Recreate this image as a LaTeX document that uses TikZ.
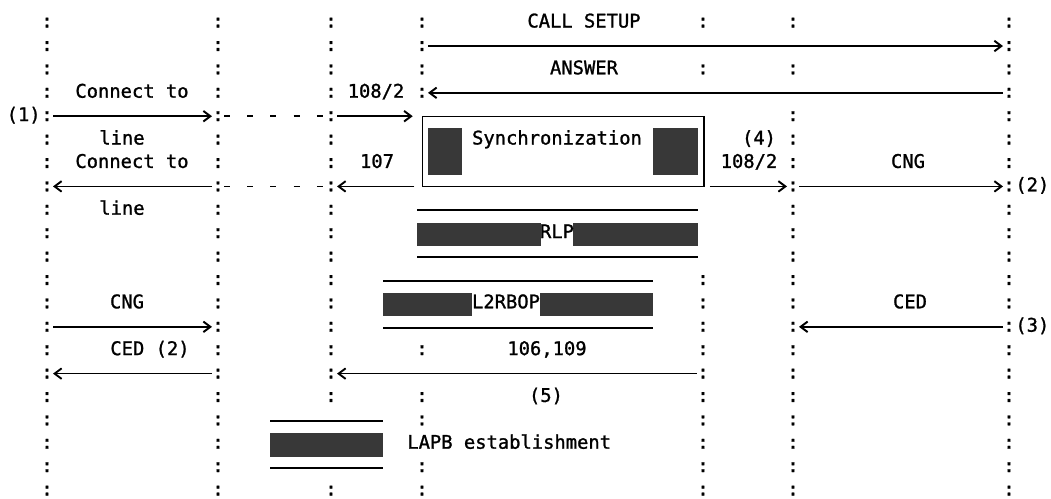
\documentclass[tikz,border=0pt]{standalone}
\usepackage{fontspec}
\setmonofont[FakeBold=1.2]{DejaVu Sans Mono}
\usetikzlibrary{arrows.meta}
\tikzstyle{colon}=[anchor=base,inner sep=0pt]
\tikzstyle{msg}=[anchor=base,inner sep=0pt]

\begin{document}
\begin{tikzpicture}[x=0.02cm,y=-0.02cm,
every node/.style={font=\ttfamily\fontsize{10.7}{13}\selectfont},
sig/.style={line width=0.9pt,-{Straight Barb[length=4pt,width=6pt,line width=1.1pt]}},
rule/.style={line width=0.9pt},
gap/.style={line width=0.9pt,dash pattern=on 3.4pt off 9.8pt},
syncbox/.style={draw,line width=0.6pt,inner sep=0pt,minimum width=5.64cm,minimum height=1.404cm},
blk/.style={fill=black!78}]
\useasboundingbox (0,0) rectangle (1051,498);
\foreach \c/\x/\rows in {A/47/{1,...,21},B/218/{1,...,21},
  C/331/{1,2,3,4,5,6,7,8,9,10,11,12,13,14,15,16,17,21},
  D/422/{1,2,3,4,15,17,18,20,21},
  E/703/{1,3,12,13,14,15,16,17,18,19,20,21},
  F/793/{1,3,5,6,7,8,9,10,11,12,13,14,15,16,17,18,19,20,21},
  G/1009/{1,...,21}}
  \foreach \r in \rows
    \node[colon] (\c\r) at (\x,{27.5+23.4*(\r-1)}) {:};

\node[syncbox] (sync) at (563,151.2) {};
\fill[blk] (428,128) rectangle (462,175);
\fill[blk] (653,128) rectangle (698,175);
\node[msg] (synctext) at (557,144.5) {Synchronization};

\draw[rule] (417,210) -- (698,210);
\fill[blk] (417,223) rectangle (541,246);
\fill[blk] (573,223) rectangle (698,246);
\draw[rule] (417,257) -- (698,257);
\node[msg] (rlptext) at (557,238.1) {RLP};

\draw[rule] (383,281) -- (653,281);
\fill[blk] (383,293) rectangle (472,316);
\fill[blk] (540,293) rectangle (653,316);
\draw[rule] (383,328) -- (653,328);
\node[msg] (l2rtext) at (506,308.3) {L2RBOP};

\draw[rule] (270,421) -- (383,421);
\fill[blk] (270,433) rectangle (383,457);
\draw[rule] (270,468) -- (383,468);
\node[msg,anchor=base west] (lapb) at (407,448.7) {LAPB establishment};

\node[msg] (setup) at (584,27.5) {CALL SETUP};
\node[msg] (answer) at (584,74.3) {ANSWER};
\node[msg] (con1) at (132,97.7) {Connect to};
\node[msg] (nra) at (376,97.7) {108/2};
\node[msg] (line1) at (122,144.5) {line};
\node[msg] (four) at (759,144.5) {(4)};
\node[msg] (con2) at (132,167.9) {Connect to};
\node[msg] (nrb) at (377,167.9) {107};
\node[msg] (nrc) at (749,167.9) {108/2};
\node[msg] (cng1) at (908,167.9) {CNG};
\node[msg] (line2) at (122,214.7) {line};
\node[msg] (cng2) at (127,308.3) {CNG};
\node[msg] (ced1) at (910,308.3) {CED};
\node[msg] (ced2) at (150,355.1) {CED (2)};
\node[msg] (nrd) at (547,355.1) {106,109};
\node[msg] (five) at (546,401.9) {(5)};
\node[msg,anchor=base east] (one) at (A5.base west) {(1)};
\node[msg,anchor=base west] (two) at (G8.base east) {(2)};
\node[msg,anchor=base west] (three) at (G14.base east) {(3)};

\draw[sig] (D2.east) -- (G2.west);
\draw[sig] (G4.west) -- (D4.east);
\draw[sig] (A5.east) -- (B5.west);
\draw[gap] (B5.east) -- (C5.west);
\draw[sig,shorten >=5pt] (C5.east) -- (sync.west |- C5);
\draw[sig] (B8.west) -- (A8.east);
\draw[gap] (B8.east) -- (C8.west);
\draw[sig,shorten <=4pt] (sync.west |- C8) -- (C8.east);
\draw[sig,shorten <=3pt] (sync.east |- F8) -- (F8.west);
\draw[sig] (F8.east) -- (G8.west);
\draw[sig] (A14.east) -- (B14.west);
\draw[sig] (G14.west) -- (F14.east);
\draw[sig] (B16.west) -- (A16.east);
\draw[sig] (E16.west) -- (C16.east);
\end{tikzpicture}
\end{document}
